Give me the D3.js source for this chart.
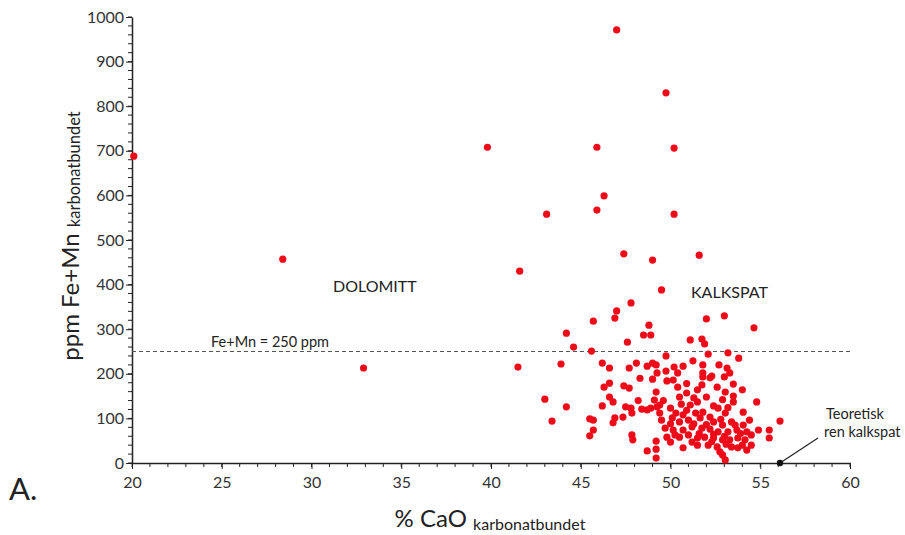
<!DOCTYPE html>
<html><head><meta charset="utf-8">
<script src="https://cdn.jsdelivr.net/npm/d3@7"></script>
<style>
body{margin:0;background:#fff}
text{font-family:Lato,"Open Sans",sans-serif;fill:#222}
</style>
</head><body>
<svg id="c" width="905" height="535"></svg>
<script>
// % CaO (karbonatbundet)
const cao = [
 20.1,28.4,32.9,39.8,41.6,41.5,43.1,47.0,45.9,46.3,45.9,49.75,50.2,50.2,47.4,49.0,51.6,49.5,
 47.8,47.0,46.9,45.7,44.2,48.8,48.5,48.9,44.6,47.6,45.6,52.0,53.0,54.65,51.1,51.75,51.9,52.1,53.2,53.8,
 43.9,46.2,46.6,47.7,48.1,48.7,49.0,49.2,49.75,50.7,51.25,51.8,52.7,53.15,53.3,49.75,50.2,49.0,49.25,51.8,52.3,53.0,
 43.0,44.2,43.4,46.3,46.6,47.4,47.7,46.6,46.8,46.2,47.5,47.8,48.4,48.7,48.9,49.2,49.25,45.5,45.7,46.9,46.8,47.35,47.85,
 45.7,45.5,47.85,47.9,48.7,49.2,49.2,49.2,
 49.8,50.15,50.4,51.8,52.2,52.6,53.05,53.5,54.0,53.5,53.5,54.8,51.5,51.75,50.9,50.5,49.1,50.0,49.4,51.1,51.5,52.0,
 52.65,53.05,54.05,50.7,51.4,51.8,52.2,49.5,49.4,50.1,50.5,51.0,51.65,52.4,52.9,53.6,54.05,
 49.7,50.15,50.7,51.2,51.75,52.2,52.65,53.2,53.7,54.25,54.5,54.9,55.5,55.5,
 49.8,50.25,50.5,51.0,51.5,51.9,52.4,52.9,53.3,53.75,54.15,54.0,50.7,51.5,52.1,52.6,52.75,52.9,53.05,53.4,53.75,54.25,54.5,
 56.1,50.4,
 50.0,50.3,50.9,51.3,51.6,52.0,52.4,52.8,53.0,53.4,53.9,54.4,50.6,51.3,52.4,53.2,50.0,51.2,52.3,53.1,50.9,52.9,49.6,48.2,48.3
];
// ppm Fe+Mn (karbonatbundet)
const femn = [
 688,457,213,708,430,215,558,971,708,599,567,830,706,558,469,455,466,388,
 359,341,325,318,291,309,287,287,260,271,251,323,330,303,276,278,267,244,247,235,
 222,224,213,213,224,217,224,220,240,217,229,220,220,213,202,206,215,188,202,202,195,193,
 143,126,94,170,179,173,168,148,137,128,126,123,121,119,123,159,126,99,96,101,90,103,112,
 74,61,63,52,27,49,31,11,
 184,186,170,193,191,170,159,177,164,150,137,137,164,175,157,148,141,123,130,130,137,148,
 123,112,114,108,112,114,103,96,112,101,92,96,101,92,85,85,85,
 78,74,74,81,78,76,70,70,74,70,63,74,74,56,
 58,63,58,63,56,58,56,52,52,56,52,40,34,40,40,36,25,18,7,36,34,29,40,
 94,202,
 88,112,118,88,66,86,64,98,60,92,66,96,132,146,128,124,47,47,48,42,178,142,140,140,190
];
const xTicks = [20,25,30,35,40,45,50,55,60];
const yTicks = [0,100,200,300,400,500,600,700,800,900,1000];
const thresholdValue = 250;
const pureCalcite = {cao: 56.1, femn: 0};

const svg = d3.select("#c");
const x = d3.scaleLinear().domain([20,60]).range([132,850]);
const y = d3.scaleLinear().domain([0,1000]).range([463,17]);

// minor ticks
const minorX = d3.range(20,61,1), minorY = d3.range(0,1001,20);
svg.append("g").selectAll("line").data(minorX).join("line")
  .attr("x1",d=>x(d)).attr("x2",d=>x(d)).attr("y1",y(0)).attr("y2",y(0)+4)
  .attr("stroke","#222").attr("stroke-width",1);
svg.append("g").selectAll("line").data(minorY).join("line")
  .attr("y1",d=>y(d)).attr("y2",d=>y(d)).attr("x1",x(20)-4).attr("x2",x(20))
  .attr("stroke","#222").attr("stroke-width",1);

// major axes
const gx = svg.append("g").attr("transform","translate(0,463)")
  .call(d3.axisBottom(x).tickValues(xTicks).tickSize(6).tickSizeOuter(0).tickPadding(8).tickFormat(d3.format("d")));
gx.select(".domain").attr("stroke","#222").attr("stroke-width",1.5);
gx.selectAll("line").attr("stroke","#222");
gx.selectAll("text").attr("font-size",16).style("fill","#333");

const gy = svg.append("g").attr("transform","translate(132,0)")
  .call(d3.axisLeft(y).tickValues(yTicks).tickSize(6).tickSizeOuter(0).tickPadding(2).tickFormat(d3.format("d")));
gy.select(".domain").attr("stroke","#222").attr("stroke-width",1.5);
gy.selectAll("line").attr("stroke","#222");
gy.selectAll("text").attr("font-size",16).style("fill","#333");

// threshold line
svg.append("line")
  .attr("x1",x(20)).attr("x2",x(60))
  .attr("y1",y(thresholdValue)).attr("y2",y(thresholdValue))
  .attr("stroke","#555").attr("stroke-width",1).attr("stroke-dasharray","4,3");
svg.append("text").attr("x",211).attr("y",y(thresholdValue)-5)
  .attr("font-size",14.5).text("Fe+Mn = 250 ppm");

// points
svg.append("g").selectAll("circle").data(cao.map((c,i)=>[c,femn[i]])).join("circle")
  .attr("cx",d=>x(d[0])).attr("cy",d=>y(d[1])).attr("r",3.6)
  .attr("fill","#ef0a1a");

// pure calcite
svg.append("line")
  .attr("x1",x(pureCalcite.cao)).attr("y1",y(pureCalcite.femn))
  .attr("x2",x(pureCalcite.cao)+38).attr("y2",y(pureCalcite.femn)-25)
  .attr("stroke","#222").attr("stroke-width",1.2);
svg.append("circle").attr("cx",x(pureCalcite.cao)).attr("cy",y(pureCalcite.femn))
  .attr("r",3.2).attr("fill","#111");
svg.append("text").attr("x",826).attr("y",419).attr("font-size",14.5).text("Teoretisk");
svg.append("text").attr("x",824).attr("y",437).attr("font-size",14.5).text("ren kalkspat");

// region labels
svg.append("text").attr("x",333).attr("y",292).attr("font-size",16).text("DOLOMITT");
svg.append("text").attr("x",691).attr("y",298).attr("font-size",16).text("KALKSPAT");

// axis titles
const xt = svg.append("text").attr("x",490).attr("y",527).attr("text-anchor","middle");
xt.append("tspan").attr("font-size",24).text("% CaO ");
xt.append("tspan").attr("font-size",16).attr("dy",3).text("karbonatbundet");

const yt = svg.append("text").attr("transform","translate(79,236) rotate(-90)").attr("text-anchor","middle");
yt.append("tspan").attr("font-size",24).text("ppm Fe+Mn ");
yt.append("tspan").attr("font-size",16.5).attr("dy",1).text("karbonatbundet");

svg.append("text").attr("x",9).attr("y",500).attr("font-size",31).text("A.");
</script>
</body></html>
